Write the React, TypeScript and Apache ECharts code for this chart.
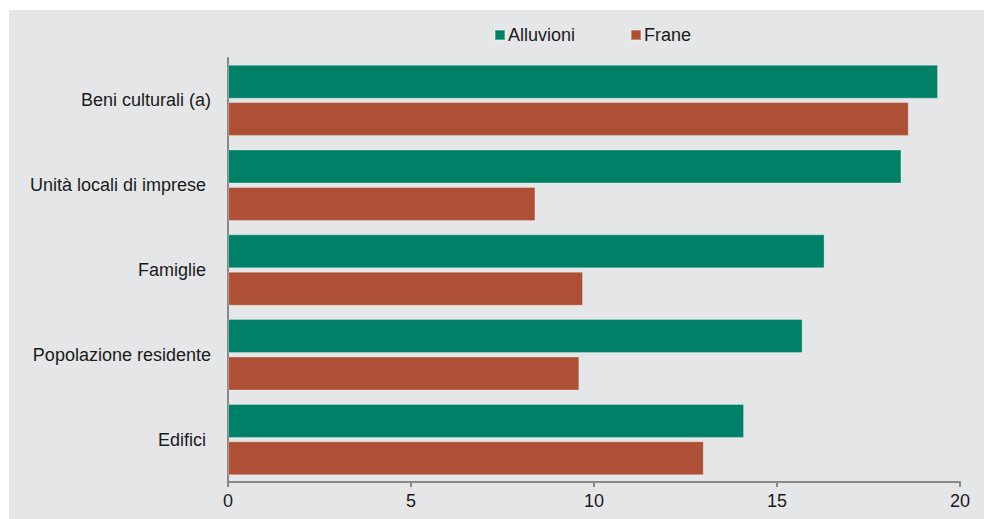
import React, { useEffect, useRef } from "react";
import * as echarts from "echarts";

const categories = [
  "Beni culturali (a)",
  "Unità locali di imprese ",
  "Famiglie ",
  "Popolazione residente",
  "Edifici ",
];
const alluvioni = [19.4, 18.4, 16.3, 15.7, 14.1];
const frane = [18.6, 8.4, 9.7, 9.6, 13.0];
const seriesNames = ["Alluvioni", "Frane"];
const xTicks = { min: 0, max: 20, interval: 5 };

const GREEN = "#008066";
const RED = "#ae5036";
const BG = "#e5e6e8";
const FONT = "'Liberation Sans', Arial, sans-serif";

export default function App() {
  const ref = useRef<HTMLDivElement>(null);
  useEffect(() => {
    if (!ref.current) return;
    const chart = echarts.init(ref.current, undefined, { renderer: "svg" });
    chart.setOption({
      animation: false,
      backgroundColor: "#ffffff",
      textStyle: { fontFamily: FONT },
      graphic: [
        {
          type: "rect",
          left: 9,
          top: 10,
          z: -10,
          silent: true,
          shape: { width: 975, height: 509 },
          style: { fill: BG },
        },
      ],
      legend: {
        data: seriesNames,
        left: 489,
        top: 21,
        icon: "rect",
        itemWidth: 10,
        itemHeight: 10,
        itemGap: 55,
        textStyle: { fontSize: 18, color: "#1a1a1a", fontFamily: FONT, padding: [0, 0, 0, -2] },
      },
      grid: { left: 228, right: 24, top: 58, bottom: 37, containLabel: false },
      xAxis: {
        type: "value",
        min: xTicks.min,
        max: xTicks.max,
        interval: xTicks.interval,
        axisLine: { show: true, lineStyle: { color: "#888888", width: 2 } },
        axisTick: { show: true, length: 5, lineStyle: { color: "#888888", width: 2 } },
        splitLine: { show: false },
        axisLabel: { fontSize: 18, color: "#1a1a1a", margin: 10, fontFamily: FONT },
      },
      yAxis: {
        type: "category",
        data: categories,
        inverse: true,
        axisLine: { show: true, lineStyle: { color: "#888888", width: 2 } },
        axisTick: { show: false },
        axisLabel: { fontSize: 18, color: "#1a1a1a", margin: 17, fontFamily: FONT },
      },
      series: [
        {
          name: seriesNames[0],
          type: "bar",
          data: alluvioni,
          barWidth: 34,
          barGap: "10%",
          itemStyle: { color: GREEN, borderColor: "rgba(255,255,255,0.3)", borderWidth: 1 },
        },
        {
          name: seriesNames[1],
          type: "bar",
          data: frane,
          barWidth: 34,
          barGap: "10%",
          itemStyle: { color: RED, borderColor: "rgba(255,255,255,0.3)", borderWidth: 1 },
        },
      ],
    });
    return () => chart.dispose();
  }, []);
  return (
    <div
      ref={ref}
      style={{ position: "fixed", left: 0, top: 0, width: 984, height: 519 }}
    />
  );
}
